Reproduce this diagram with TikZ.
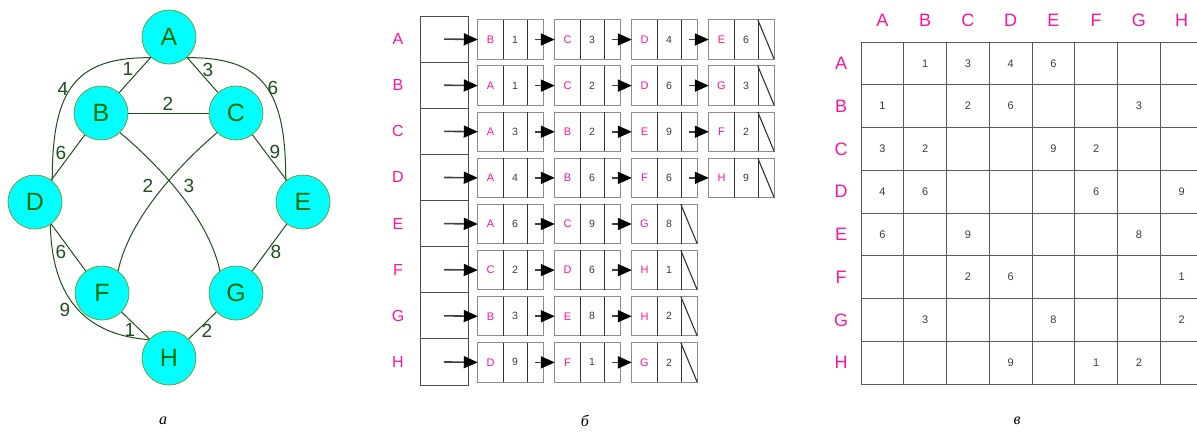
\documentclass[tikz,border=0pt]{standalone}
\usepackage{fontspec}
\setmainfont{Liberation Sans}
\newfontfamily\capfont{Liberation Serif}
\usetikzlibrary{arrows.meta}
\definecolor{gnode}{RGB}{0,255,255}
\definecolor{gborder}{RGB}{110,160,60}
\definecolor{gtext}{RGB}{0,110,0}
\definecolor{gedge}{RGB}{30,80,30}
\definecolor{pinkc}{RGB}{255,20,160}
\definecolor{numc}{RGB}{60,60,60}
\begin{document}
\begin{tikzpicture}[x=1pt,y=-1pt,
  vert/.style={circle,fill=gnode,draw=gborder,line width=0.8pt,minimum size=54pt,inner sep=0pt,text=gtext,font=\fontsize{25}{25}\selectfont},
  wlab/.style={text=gedge,font=\fontsize{19}{19}\selectfont,inner sep=0pt},
  gedg/.style={draw=gedge,line width=1pt},
  hdr/.style={draw=black!70,line width=0.9pt,minimum width=48pt,minimum height=46.125pt,inner sep=0pt},
  rowlab/.style={text=pinkc,font=\fontsize{16}{16}\selectfont,inner sep=0pt},
  cellA/.style={minimum width=25pt,minimum height=39pt,inner sep=0pt,text=pinkc,font=\fontsize{11}{11}\selectfont},
  cellB/.style={minimum width=24pt,minimum height=39pt,inner sep=0pt,text=numc,font=\fontsize{10.5}{10.5}\selectfont},
  cellC/.style={minimum width=16pt,minimum height=39pt,inner sep=0pt},
  boxout/.style={draw=black!45,line width=1pt},
  boxdiv/.style={draw=black!80,line width=1.1pt},
  ptr/.style={draw=black!75,line width=1.6pt,-{Triangle[length=14pt,width=12pt,color=black]}},
  mgrid/.style={draw=black!65,line width=0.9pt},
  mhead/.style={text=pinkc,font=\fontsize{18}{18}\selectfont,inner sep=0pt},
  mnum/.style={text=numc,font=\fontsize{11}{11}\selectfont,inner sep=0pt},
  capt/.style={font=\capfont\itshape\fontsize{16}{16}\selectfont,inner sep=0pt}
]
\useasboundingbox[fill=white] (0,0) rectangle (1197,432);

% ---------- graph ----------
\node[vert] (A) at (169,37) {A};
\node[vert] (B) at (101,113) {B};
\node[vert] (C) at (236,113) {C};
\node[vert] (D) at (35,202) {D};
\node[vert] (E) at (303,202) {E};
\node[vert] (F) at (102,293) {F};
\node[vert] (G) at (236,293) {G};
\node[vert] (H) at (169,358) {H};

\draw[gedg] (A) -- (B);
\draw[gedg] (A) -- (C);
\draw[gedg] (B) -- (C);
\draw[gedg] (B) -- (D);
\draw[gedg] (C) -- (E);
\draw[gedg] (D) -- (F);
\draw[gedg] (E) -- (G);
\draw[gedg] (F) -- (H);
\draw[gedg] (G) -- (H);
\draw[gedg] (A.229) .. controls (75,57) and (52,90) .. (D.51);
\draw[gedg] (A.311) .. controls (263,57) and (286,90) .. (E.129);
\draw[gedg] (D.304) .. controls (52,303) and (90,335) .. (H.138);
\draw[gedg] (C.226) .. controls (185,160) and (130,215) .. (F.54);
\draw[gedg] (B.314) .. controls (153,160) and (208,215) .. (G.126);

\node[wlab] (wAB) at (128,69) {1};
\node[wlab] (wAC) at (208,70) {3};
\node[wlab] (wAD) at (63,89) {4};
\node[wlab] (wAE) at (273,88) {6};
\node[wlab] (wBC) at (168,104) {2};
\node[wlab] (wBD) at (61,153) {6};
\node[wlab] (wCE) at (275,152) {9};
\node[wlab] (wCF) at (148,186) {2};
\node[wlab] (wBG) at (189,186) {3};
\node[wlab] (wDF) at (61,252) {6};
\node[wlab] (wEG) at (276,252) {8};
\node[wlab] (wDH) at (65,310) {9};
\node[wlab] (wFH) at (130,330) {1};
\node[wlab] (wGH) at (207,331) {2};

% ---------- adjacency list ----------
\foreach \i/\lab/\len/\lst in {
  0/A/4/{B/1,C/3,D/4,E/6},
  1/B/4/{A/1,C/2,D/6,G/3},
  2/C/4/{A/3,B/2,E/9,F/2},
  3/D/4/{A/4,B/6,F/6,H/9},
  4/E/3/{A/6,C/9,G/8},
  5/F/3/{C/2,D/6,H/1},
  6/G/3/{B/3,E/8,H/2},
  7/H/3/{D/9,F/1,G/2}}{
  \pgfmathsetmacro\ty{16+46.125*\i}
  \pgfmathsetmacro\cy{\ty+23.5}
  \node[hdr] (hb\i) at (444,\ty+23.06) {};
  \node[rowlab] (rl\i) at (398,\ty+23.06) {\lab};
  \foreach \n/\w [count=\j from 0] in \lst {
    \pgfmathsetmacro\xo{478+77*\j}
    \node[cellA] (c\i-\j-a) at (\xo+12.5,\cy) {\n};
    \node[cellB] (c\i-\j-b) at (\xo+37,\cy) {\w};
    \node[cellC] (c\i-\j-c) at (\xo+57,\cy) {};
    \draw[boxout] (c\i-\j-a.north west) rectangle (c\i-\j-c.south east);
    \draw[boxdiv] (c\i-\j-a.north east) -- (c\i-\j-a.south east)
                  (c\i-\j-b.north east) -- (c\i-\j-b.south east);
    \ifnum\j=0
      \draw[ptr] (hb\i.center) -- (c\i-0-a.west);
    \else
      \pgfmathtruncatemacro\pj{\j-1}
      \draw[ptr] (c\i-\pj-c.center) -- (c\i-\j-a.west);
    \fi
    \ifnum\j=\numexpr\len-1\relax
      \draw[boxdiv] (c\i-\j-c.north west) -- (c\i-\j-c.south east);
    \fi
  }
}

% ---------- adjacency matrix ----------
\foreach \k in {0,...,7}
  \draw[mgrid] (861+42.75*\k,42) -- (861+42.75*\k,384);
\foreach \k in {0,...,8}
  \draw[mgrid] (861,42+42.75*\k) -- (1204,42+42.75*\k);
\foreach \lab [count=\k from 0] in {A,B,C,D,E,F,G,H} {
  \node[mhead] (ch\k) at (882.4+42.75*\k,20) {\lab};
  \node[mhead] (rh\k) at (841,63.4+42.75*\k) {\lab};
}
\foreach \r/\c/\v in {
  0/1/1,0/2/3,0/3/4,0/4/6,
  1/0/1,1/2/2,1/3/6,1/6/3,
  2/0/3,2/1/2,2/4/9,2/5/2,
  3/0/4,3/1/6,3/5/6,3/7/9,
  4/0/6,4/2/9,4/6/8,
  5/2/2,5/3/6,5/7/1,
  6/1/3,6/4/8,6/7/2,
  7/3/9,7/5/1,7/6/2}
  \node[mnum] (m\r-\c) at (882.4+42.75*\c,63.4+42.75*\r) {\v};

% ---------- captions ----------
\node[capt] (capA) at (163,421) {а};
\node[capt] (capB) at (585,421) {б};
\node[capt] (capC) at (1017,421) {в};
\end{tikzpicture}
\end{document}
